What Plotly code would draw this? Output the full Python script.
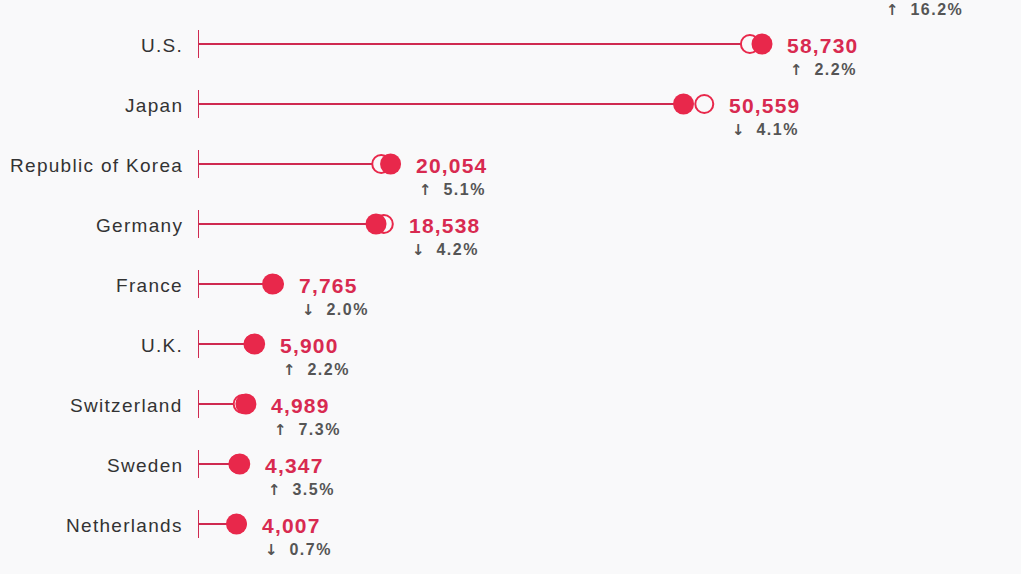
#!/usr/bin/env python3
# coding: utf-8

import plotly.graph_objects as go

# PCT applications by country (top row is cut off in the picture)
countries = ['China', 'U.S.', 'Japan', 'Republic of Korea', 'Germany',
             'France', 'U.K.', 'Switzerland', 'Sweden', 'Netherlands']
current = [68720, 58730, 50559, 20054, 18538, 7765, 5900, 4989, 4347, 4007]
previous = [59140, 57470, 52720, 19080, 19350, 7920, 5770, 4650, 4200, 4035]
change = ['16.2%', '2.2%', '4.1%', '5.1%', '4.2%', '2.0%', '2.2%', '7.3%', '3.5%', '0.7%']
direction = ['up', 'up', 'down', 'up', 'down', 'down', 'up', 'up', 'up', 'down']

RED = '#e8284b'
LINE_RED = '#cf2a50'
TEXT_RED = '#d82a50'
GREY = '#555555'
BG = '#f9f9fa'

rows = list(range(len(countries)))

fig = go.Figure()

# stems from zero to the current value
xs, ys = [], []
for r, v in zip(rows, current):
    xs += [0, v, None]
    ys += [r, r, None]
fig.add_trace(go.Scatter(x=xs, y=ys, mode='lines',
                         line=dict(color=LINE_RED, width=2),
                         hoverinfo='skip'))

# baseline tick
fig.add_trace(go.Scatter(x=[0] * len(rows), y=rows, mode='markers',
                         marker=dict(symbol='line-ns', size=20,
                                     line=dict(color=LINE_RED, width=2)),
                         hoverinfo='skip'))

# previous year (hollow)
fig.add_trace(go.Scatter(x=previous, y=rows, mode='markers',
                         marker=dict(symbol='circle', size=18, color=BG,
                                     line=dict(color=RED, width=2)),
                         hoverinfo='skip'))

# current year (filled)
fig.add_trace(go.Scatter(x=current, y=rows, mode='markers',
                         marker=dict(symbol='circle', size=21, color=RED,
                                     line=dict(width=0)),
                         hoverinfo='skip'))

annotations = []
for r, name, cur, prev, pct, d in zip(rows, countries, current, previous,
                                      change, direction):
    edge = max(cur, prev)
    annotations.append(dict(
        x=0, y=r, xref='x', yref='y', xanchor='right', yanchor='middle',
        xshift=-13, yshift=-1, showarrow=False,
        text='<span style="letter-spacing:1.3px">%s</span>' % name,
        font=dict(family='Liberation Sans, Arial', size=19, color='#333333')))
    annotations.append(dict(
        x=edge, y=r, xref='x', yref='y', xanchor='left', yanchor='middle',
        xshift=23, yshift=-1, showarrow=False,
        text='<b><span style="letter-spacing:1.2px">{:,}</span></b>'.format(cur),
        font=dict(family='Liberation Sans, Arial', size=21, color=TEXT_RED)))
    arrow = '\u2191' if d == 'up' else '\u2193'
    annotations.append(dict(
        x=edge, y=r + 25 / 60, xref='x', yref='y', xanchor='left',
        yanchor='middle', xshift=26, yshift=-1, showarrow=False,
        text=('<b><span style="font-family:\'DejaVu Sans\';font-size:15px">%s</span>'
              '<span style="letter-spacing:1.5px">  %s</span></b>') % (arrow, pct),
        font=dict(family='Liberation Sans, Arial', size=16, color=GREY)))

fig.update_layout(
    width=1021, height=574,
    margin=dict(l=198, r=0, t=0, b=0),
    paper_bgcolor=BG, plot_bgcolor=BG,
    showlegend=False,
    annotations=annotations,
    xaxis=dict(range=[0, 85700], visible=False, fixedrange=True),
    yaxis=dict(range=[9.8333, 0.2667], visible=False, fixedrange=True),
)

fig.write_html("out.html", config={'displayModeBar': False},
               post_script="document.body.style.margin='0';"
                           "document.body.style.background='%s';" % BG)
